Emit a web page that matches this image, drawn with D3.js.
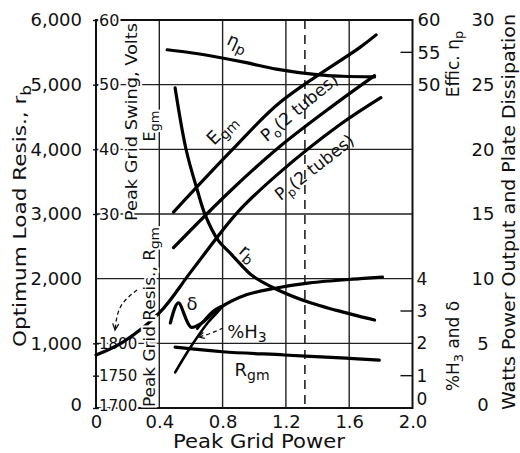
<!DOCTYPE html>
<html><head><meta charset="utf-8">
<script src="https://cdn.jsdelivr.net/npm/d3@7"></script>
<style>
body{margin:0;background:#fff}
svg{display:block}
text{font-family:"DejaVu Sans",sans-serif;fill:#111}
</style>
</head><body>
<svg id="c" width="520" height="453"></svg>
<script>
// ---- tick labels ----
const powerTicks=[0,0.4,0.8,1.2,1.6,2.0];
const rbTicks=[0,1000,2000,3000,4000,5000,6000];
const egmTicks=[30,40,50,60];
const rgmTicks=[1700,1750,1800];
const etaTicks=[50,55,60];
const h3Ticks=[0,1,2,3,4];
const wattTicks=[0,5,10,15,20,25,30];
const gridPower=[0.4,0.8,1.2,1.6];
const gridRb=[1000,2000,3000,4000,5000];
const markPower=[1.32];

// ---- series (peak grid power, value) ----
const rbPower=[0.5,0.57,0.64,0.69,0.77,0.85,0.93,0.98,1.12,1.35,1.52,1.76];
const rbValues=[4950,3990,3370,2985,2600,2390,2180,2060,1860,1630,1510,1360];
const egmPower=[0.49,0.86,1.16,1.67,1.77];
const egmValues=[30.3,39.9,47.2,55.8,57.7];
const poPower=[0.49,0.85,1.16,1.5,1.76];
const poValues=[12.4,16.8,20.2,23.4,25.7];
const ppPower=[0,0.17,0.4,0.61,0.9,1.16,1.54,1.8];
const ppValues=[4.1,5.1,7.35,10.7,15.2,18.2,21.9,24.0];
const etaPower=[0.45,0.61,0.78,0.95,1.14,1.41,1.56,1.76];
const etaValues=[55.4,54.9,54.2,53.4,52.4,51.5,51.3,51.2];
const rgmPower=[0.5,0.8,1.19,1.58,1.79];
const rgmValues=[1794,1787,1782,1777,1774];
const deltaPower=[0.47,0.52,0.6,0.66,0.78,0.95,1.14,1.35,1.67,1.81];
const deltaValues=[2.63,3.25,2.5,2.6,3.09,3.5,3.71,3.87,4.0,4.05];
const h3Power=[0.5,0.6,0.7,0.8,0.74,0.64];
const h3Values=[1.1,1.9,2.6,3.15,3.0,2.45];

const svg=d3.select("#c");
const x=d3.scaleLinear([0,2],[96,412.5]);
const yRb=d3.scaleLinear([0,6000],[408,20]);
const yEgm=d3.scaleLinear([0,60],[408,20]);
const yEta=d3.scaleLinear([0,60],[408,20]);
const yRgm=d3.scaleLinear([1700,2300],[408,20]);
const yH3=d3.scaleLinear([0,12],[408,20]);
const yW=d3.scaleLinear([0,30],[408,20]);
const L=96,R=412.5,T=20,B=408;

// grid
svg.append("g").selectAll("line").data(gridRb).join("line")
  .attr("x1",L).attr("x2",R).attr("y1",d=>yRb(d)).attr("y2",d=>yRb(d))
  .attr("stroke","#222").attr("stroke-width",1.4);
svg.append("g").selectAll("line").data(gridPower).join("line")
  .attr("x1",d=>x(d)).attr("x2",d=>x(d)).attr("y1",T).attr("y2",B)
  .attr("stroke","#222").attr("stroke-width",1.4);
svg.append("g").selectAll("line").data(markPower).join("line")
  .attr("x1",d=>x(d)).attr("x2",d=>x(d)).attr("y1",T).attr("y2",B)
  .attr("stroke","#222").attr("stroke-width",1.6).attr("stroke-dasharray","9,6");
// frame
svg.append("rect").attr("x",L).attr("y",T).attr("width",R-L).attr("height",B-T)
  .attr("fill","none").attr("stroke","#111").attr("stroke-width",2);

function styleAxis(g,size){
  g.select(".domain").remove();
  g.selectAll("text").style("font-size",size+"px").attr("fill","#111");
  g.selectAll("line").attr("stroke","#111").attr("stroke-width",1.4);
}
function halo(sel){ sel.attr("stroke","#fff").attr("stroke-width",4).attr("paint-order","stroke"); }
// left outer axis
svg.append("g").attr("transform",`translate(${L},0)`)
  .call(d3.axisLeft(yRb).tickValues(rbTicks).tickFormat(d3.format(",")).tickSize(0).tickPadding(14))
  .call(g=>styleAxis(g,18))
  .call(g=>g.selectAll("text").filter(d=>d===0).attr("dy","0.15em"));
// inner Egm axis
svg.append("g").attr("transform",`translate(${L-3},0)`)
  .call(d3.axisRight(yEgm).tickValues(egmTicks).tickSize(6).tickPadding(0))
  .call(g=>styleAxis(g,16))
  .call(g=>halo(g.selectAll("text")));
// inner Rgm axis
svg.append("g").attr("transform",`translate(${L-3},0)`)
  .call(d3.axisRight(yRgm).tickValues(rgmTicks).tickFormat(d3.format("d")).tickSize(6).tickPadding(0))
  .call(g=>styleAxis(g,15))
  .call(g=>halo(g.selectAll("text")))
  .call(g=>g.selectAll("text").filter(d=>d===1700).attr("dy","0.15em"));
// bottom axis
svg.append("g").attr("transform",`translate(0,${B})`)
  .call(d3.axisBottom(x).tickValues(powerTicks).tickFormat(d=>d===0?"0":d.toFixed(1)).tickSize(0).tickPadding(7))
  .call(g=>styleAxis(g,18));
// right eta axis
svg.append("g").attr("transform",`translate(${R},0)`)
  .call(d3.axisRight(yEta).tickValues(etaTicks).tickSize(0).tickPadding(5))
  .call(g=>styleAxis(g,18));
svg.append("g").attr("transform",`translate(${R},0)`)
  .call(d3.axisRight(yH3).tickValues(h3Ticks).tickSize(0).tickPadding(4))
  .call(g=>styleAxis(g,17))
  .call(g=>g.selectAll("text").filter(d=>d===0).attr("dy","-0.2em"));
// inward ticks on right
svg.append("g").selectAll("line").data([55]).join("line")
  .attr("x1",R-12).attr("x2",R).attr("y1",d=>yEta(d)).attr("y2",d=>yEta(d)).attr("stroke","#111").attr("stroke-width",1.4);
svg.append("g").selectAll("line").data([1,3]).join("line")
  .attr("x1",R-12).attr("x2",R).attr("y1",d=>yH3(d)).attr("y2",d=>yH3(d)).attr("stroke","#111").attr("stroke-width",1.4);
// far right watts axis
svg.append("g").attr("transform",`translate(483,0)`)
  .call(d3.axisRight(yW).tickValues(wattTicks).tickSize(0).tickPadding(0))
  .call(g=>styleAxis(g,18))
  .call(g=>g.selectAll("text").attr("text-anchor","middle").attr("x",0))
  .call(g=>g.selectAll("text").filter(d=>d===0).attr("dy","0.15em"));

// curves
const curve=d3.curveCatmullRom.alpha(0.5);
function draw(px,py,ys,w){
  const pts=px.map((p,i)=>[x(p),ys(py[i])]);
  svg.append("path").attr("d",d3.line().curve(curve)(pts))
    .attr("fill","none").attr("stroke","#000").attr("stroke-width",w||3.2)
    .attr("stroke-linecap","round").attr("stroke-linejoin","round");
}
draw(rbPower,rbValues,yRb);
draw(egmPower,egmValues,yEgm);
draw(poPower,poValues,yW);
draw(ppPower,ppValues,yW);
draw(etaPower,etaValues,yEta);
draw(rgmPower,rgmValues,yRgm);
draw(deltaPower,deltaValues,yH3);
draw(h3Power,h3Values,yH3,2.6);

// titles
function rtext(t,cx,cy,size,rot,anchor){
  return svg.append("text").attr("transform",`translate(${cx},${cy}) rotate(${rot})`)
    .attr("text-anchor",anchor||"middle").style("font-size",size+"px").text(t);
}
const t1=rtext("",26,216,18,-90).attr("textLength",262).attr("lengthAdjust","spacingAndGlyphs");
t1.append("tspan").text("Optimum Load Resis., r");
t1.append("tspan").attr("dy",5).style("font-size","14px").text("b");
rtext("Peak Grid Swing, Volts",137,122,16,-90).attr("textLength",198).attr("lengthAdjust","spacingAndGlyphs").call(halo);
const t2=rtext("",155,126,16,-90).call(halo);
t2.append("tspan").text("E"); t2.append("tspan").attr("dy",4).style("font-size","13px").text("gm");
const t3=rtext("",155,317,16,-90).call(halo).attr("textLength",180).attr("lengthAdjust","spacingAndGlyphs");
t3.append("tspan").text("Peak Grid Resis., R"); t3.append("tspan").attr("dy",4).style("font-size","13px").text("gm");
const t4=rtext("",459,64,17,-90); t4.append("tspan").text("Effic. η"); t4.append("tspan").attr("dy",4).style("font-size","13px").text("p");
const t5=rtext("",459,346,17,-90); t5.append("tspan").text("%H"); t5.append("tspan").attr("dy",4).style("font-size","13px").text("3");
t5.append("tspan").attr("dy",-4).text(" and δ");
rtext("Watts Power Output and Plate Dissipation",515,212,17,-90).attr("textLength",396).attr("lengthAdjust","spacingAndGlyphs");
svg.append("text").attr("x",259).attr("y",448).attr("text-anchor","middle").style("font-size","19px")
  .attr("textLength",172).attr("lengthAdjust","spacingAndGlyphs").text("Peak Grid Power");

// curve labels
const l1=rtext("",235,48,18,25); l1.append("tspan").text("η"); l1.append("tspan").attr("dy",4).style("font-size","14px").text("p");
const l2=rtext("",226,134,18,-45); l2.append("tspan").text("E"); l2.append("tspan").attr("dy",4).style("font-size","14px").text("gm");
const l3=rtext("",303,112,17,-40); l3.append("tspan").text("P"); l3.append("tspan").attr("dy",4).style("font-size","12px").text("o");
l3.append("tspan").attr("dy",-4).text("(2 tubes)");
const l4=rtext("",318,172,17,-38); l4.append("tspan").text("P"); l4.append("tspan").attr("dy",4).style("font-size","12px").text("p");
l4.append("tspan").attr("dy",-4).text("(2 tubes)");
const l5=rtext("",244,258,18,40); l5.append("tspan").text("r"); l5.append("tspan").attr("dy",4).style("font-size","14px").text("b");
rtext("δ",192,310,18,0);
const l6=rtext("",247,338,18,0); l6.append("tspan").text("%H"); l6.append("tspan").attr("dy",4).style("font-size","14px").text("3");
const l7=rtext("",252,376,18,0); l7.append("tspan").text("R"); l7.append("tspan").attr("dy",4).style("font-size","14px").text("gm");

// dashed arrows
function arrow(p){
  svg.append("path").attr("d",d3.line().curve(d3.curveBasis)(p)).attr("fill","none")
    .attr("stroke","#111").attr("stroke-width",1.3).attr("stroke-dasharray","4,3");
  const a=p[p.length-1], b=p[p.length-2];
  const ang=Math.atan2(a[1]-b[1],a[0]-b[0]);
  const h=[[a[0]-7*Math.cos(ang-0.45),a[1]-7*Math.sin(ang-0.45)],a,[a[0]-7*Math.cos(ang+0.45),a[1]-7*Math.sin(ang+0.45)]];
  svg.append("path").attr("d",d3.line()(h)).attr("fill","none").attr("stroke","#111").attr("stroke-width",1.3);
}
arrow([[137,290],[118,305],[115,330]]);
arrow([[223,328],[210,334],[198,337]]);
</script>
</body></html>
